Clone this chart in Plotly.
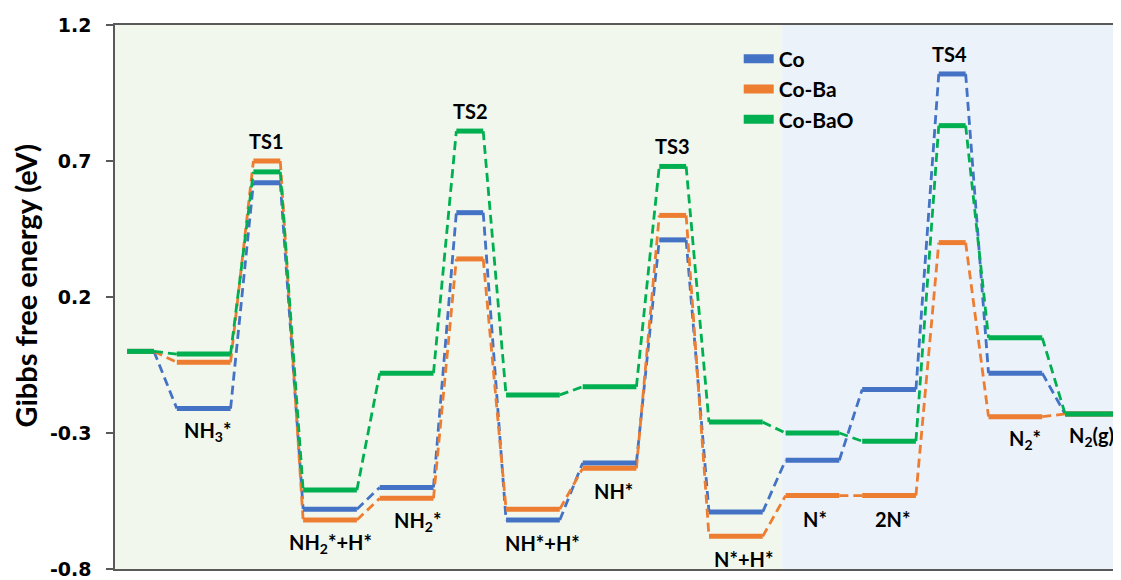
import plotly.graph_objects as go

# ---------------- data ----------------
states = ["", "NH<sub>3</sub>*", "TS1", "NH<sub>2</sub>*+H*", "NH<sub>2</sub>*", "TS2",
          "NH*+H*", "NH*", "TS3", "N*+H*", "N*", "2N*", "TS4", "N<sub>2</sub>*", "N<sub>2</sub>(g)"]
kinds = ["start", "int", "ts", "int", "int", "ts", "int", "int", "ts", "int", "int", "int", "ts", "int", "int"]

co     = [0.00, -0.21, 0.62, -0.58, -0.50, 0.51, -0.62, -0.41, 0.41, -0.59, -0.40, -0.14, 1.02, -0.08, -0.23]
co_ba  = [0.00, -0.04, 0.70, -0.62, -0.54, 0.34, -0.58, -0.43, 0.50, -0.68, -0.53, -0.53, 0.40, -0.24, -0.23]
co_bao = [0.00, -0.01, 0.66, -0.51, -0.08, 0.81, -0.16, -0.13, 0.68, -0.26, -0.30, -0.33, 0.83, 0.05, -0.23]

series_names = ["Co", "Co-Ba", "Co-BaO"]
y_ticks = [-0.8, -0.3, 0.2, 0.7, 1.2]

# ---------------- layout helpers ----------------
colors = ["#4472C4", "#ED7D31", "#00B050"]
widths = {"start": 1.0, "int": 2.0, "ts": 1.0}
GAP = 0.85

starts, ends = [], []
pos = 0.0
for k in kinds:
    starts.append(pos)
    ends.append(pos + widths[k])
    pos += widths[k] + GAP
x_max = ends[-1]

fig = go.Figure()

for name, vals, col in zip(series_names, [co, co_ba, co_bao], colors):
    # dashed connectors
    cx, cy = [], []
    for i in range(len(vals) - 1):
        cx += [ends[i], starts[i + 1], None]
        cy += [vals[i], vals[i + 1], None]
    fig.add_trace(go.Scatter(x=cx, y=cy, mode="lines", showlegend=False, hoverinfo="skip",
                             line=dict(color=col, width=2.8, dash="9px,5px")))
for name, vals, col in zip(series_names, [co, co_ba, co_bao], colors):
    # energy levels
    lx, ly = [], []
    for i, v in enumerate(vals):
        lx += [starts[i], ends[i], None]
        ly += [v, v, None]
    fig.add_trace(go.Scatter(x=lx, y=ly, mode="lines", showlegend=False, name=name,
                             line=dict(color=col, width=5)))
for name, col in zip(series_names, colors):
    fig.add_trace(go.Scatter(x=[None], y=[None], mode="lines", name=name,
                             line=dict(color=col, width=9)))

# state labels
label_dx = [0, 4, 0, 0, 11, 1, 10, 4, 0, 8, 3, 4, -3, 10, 0]
label_font = dict(family="Lato, Arial", size=20, color="black", weight="bold")
for i, s in enumerate(states):
    if not s:
        continue
    vals = [co[i], co_ba[i], co_bao[i]]
    xc = (starts[i] + ends[i]) / 2
    if kinds[i] == "ts":
        fig.add_annotation(x=xc, y=max(vals), text=f"<b>{s}</b>", showarrow=False,
                           xshift=label_dx[i], yshift=20, font=label_font)
    else:
        fig.add_annotation(x=xc, y=min(vals), text=f"<b>{s}</b>", showarrow=False,
                           xshift=label_dx[i], yshift=-23, font=label_font)

# background regions
x_left = -0.45
x_split = 24.37
x_right = x_max + 0.08
fig.add_shape(type="rect", xref="x", yref="paper", x0=x_left, x1=x_split, y0=0, y1=1,
              fillcolor="#F2F7EE", line_width=0, layer="below")
fig.add_shape(type="rect", xref="x", yref="paper", x0=x_split, x1=x_right, y0=0, y1=1,
              fillcolor="#EBF2FA", line_width=0, layer="below")

# y axis title
fig.add_annotation(xref="paper", yref="paper", x=-0.0885, y=0.521, xanchor="center", yanchor="middle",
                   text="<b>Gibbs free energy (eV)</b>", textangle=-90, showarrow=False,
                   font=dict(family="Lato, Arial", size=29, color="black"))

fig.update_layout(
    width=1113, height=572,
    margin=dict(l=107, r=0, t=17, b=8),
    paper_bgcolor="white", plot_bgcolor="white",
    showlegend=True,
    legend=dict(x=0.62, y=0.975, xanchor="left", yanchor="top", bgcolor="rgba(0,0,0,0)",
                font=dict(family="Lato, Arial", size=21, color="black", weight="bold"),
                tracegroupgap=0, itemwidth=30),
    xaxis=dict(range=[x_left, x_right], showgrid=False, zeroline=False, showticklabels=False,
               ticks="", showline=True, linecolor="#595959", linewidth=1.5, mirror=True),
    yaxis=dict(range=[-0.8, 1.2], tickvals=y_ticks, ticktext=[f"{t:.1f}" for t in y_ticks],
               showgrid=False, zeroline=False, ticks="outside", ticklen=7, tickcolor="#595959",
               tickwidth=1.5, showline=True, linecolor="#595959", linewidth=1.5,
               ticklabelstandoff=11, ticklabeloverflow="allow",
               tickfont=dict(family="DejaVu Sans", size=19, color="black", weight="bold")),
)

fig.write_html("out.html")
